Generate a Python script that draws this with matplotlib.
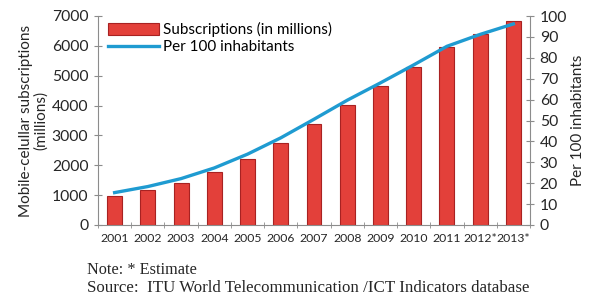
import matplotlib.pyplot as plt
import numpy as np

years = ["2001", "2002", "2003", "2004", "2005", "2006", "2007",
         "2008", "2009", "2010", "2011", "2012*", "2013*"]
subscriptions = [961, 1157, 1418, 1763, 2219, 2745, 3368,
                 4030, 4640, 5290, 5960, 6411, 6835]
per_100 = [15.5, 18.4, 22.2, 27.3, 33.9, 41.7, 50.6,
           59.7, 68.0, 76.6, 85.5, 91.2, 96.2]

font = "Lato"
grey = "#8c8c8c"
txt = "#262626"

fig = plt.figure(figsize=(5.89, 2.98), dpi=100)
ax = fig.add_axes([98 / 589, 1 - 225 / 298, 432 / 589, 209 / 298])
ax2 = ax.twinx()

x = np.arange(len(years))
bars = ax.bar(x, subscriptions, width=0.45, color="#e3403a",
              edgecolor="#a82222", linewidth=0.8, zorder=2,
              label="Subscriptions (in millions)")
line, = ax2.plot(x, per_100, color="#1f9bd1", linewidth=2.4,
                 label="Per 100 inhabitants")

ax.set_xlim(-0.5, len(years) - 0.5)
ax.set_ylim(0, 7000)
ax.set_yticks(range(0, 7001, 1000))
ax2.set_ylim(0, 100)
ax2.set_yticks(range(0, 101, 10))

ax.set_xticks(x)
ax.set_xticklabels(years, fontsize=8.8, family=font, color=txt)
ax.set_xticks(np.arange(-0.5, len(years), 1), minor=True)
ax.tick_params(axis="x", which="major", length=0, pad=6)
ax.tick_params(axis="x", which="minor", length=4, direction="inout",
               color=grey)
ax.tick_params(axis="y", length=6, direction="inout", color=grey,
               labelsize=11.3, labelcolor=txt, pad=4)
ax2.tick_params(axis="y", length=6, direction="inout", color=grey,
                labelsize=11.3, labelcolor=txt, pad=4)
for a in (ax, ax2):
    for lab in a.get_yticklabels():
        lab.set_family(font)
    for s in a.spines.values():
        s.set_visible(False)
ax.spines["left"].set_visible(True)
ax.spines["left"].set_color(grey)
ax.spines["bottom"].set_visible(True)
ax.spines["bottom"].set_color(grey)
ax2.spines["right"].set_visible(True)
ax2.spines["right"].set_color(grey)

ax.set_ylabel("Mobile-celullar subscriptions\n(millions)", fontsize=11,
              family=font, color=txt, labelpad=3, linespacing=1.0)
ax2.set_ylabel("Per 100 inhabitants", fontsize=11, family=font,
               color=txt, labelpad=3)

ax.legend([bars, line], ["Subscriptions (in millions)", "Per 100 inhabitants"],
          loc="upper left", bbox_to_anchor=(0.01, 1.0), frameon=False,
          prop={"family": font, "size": 11}, handlelength=3.3,
          handleheight=0.8, labelspacing=0.2, handletextpad=0.3,
          borderaxespad=0)

fig.text(87 / 589, 1 - 270 / 298, "Note: * Estimate", family="Liberation Serif",
         fontsize=11.7, va="center", color=txt)
fig.text(87 / 589, 1 - 288 / 298,
         "Source:  ITU World Telecommunication /ICT Indicators database",
         family="Liberation Serif", fontsize=12.2, va="center", color=txt)

fig.savefig("out.png", dpi=100)
